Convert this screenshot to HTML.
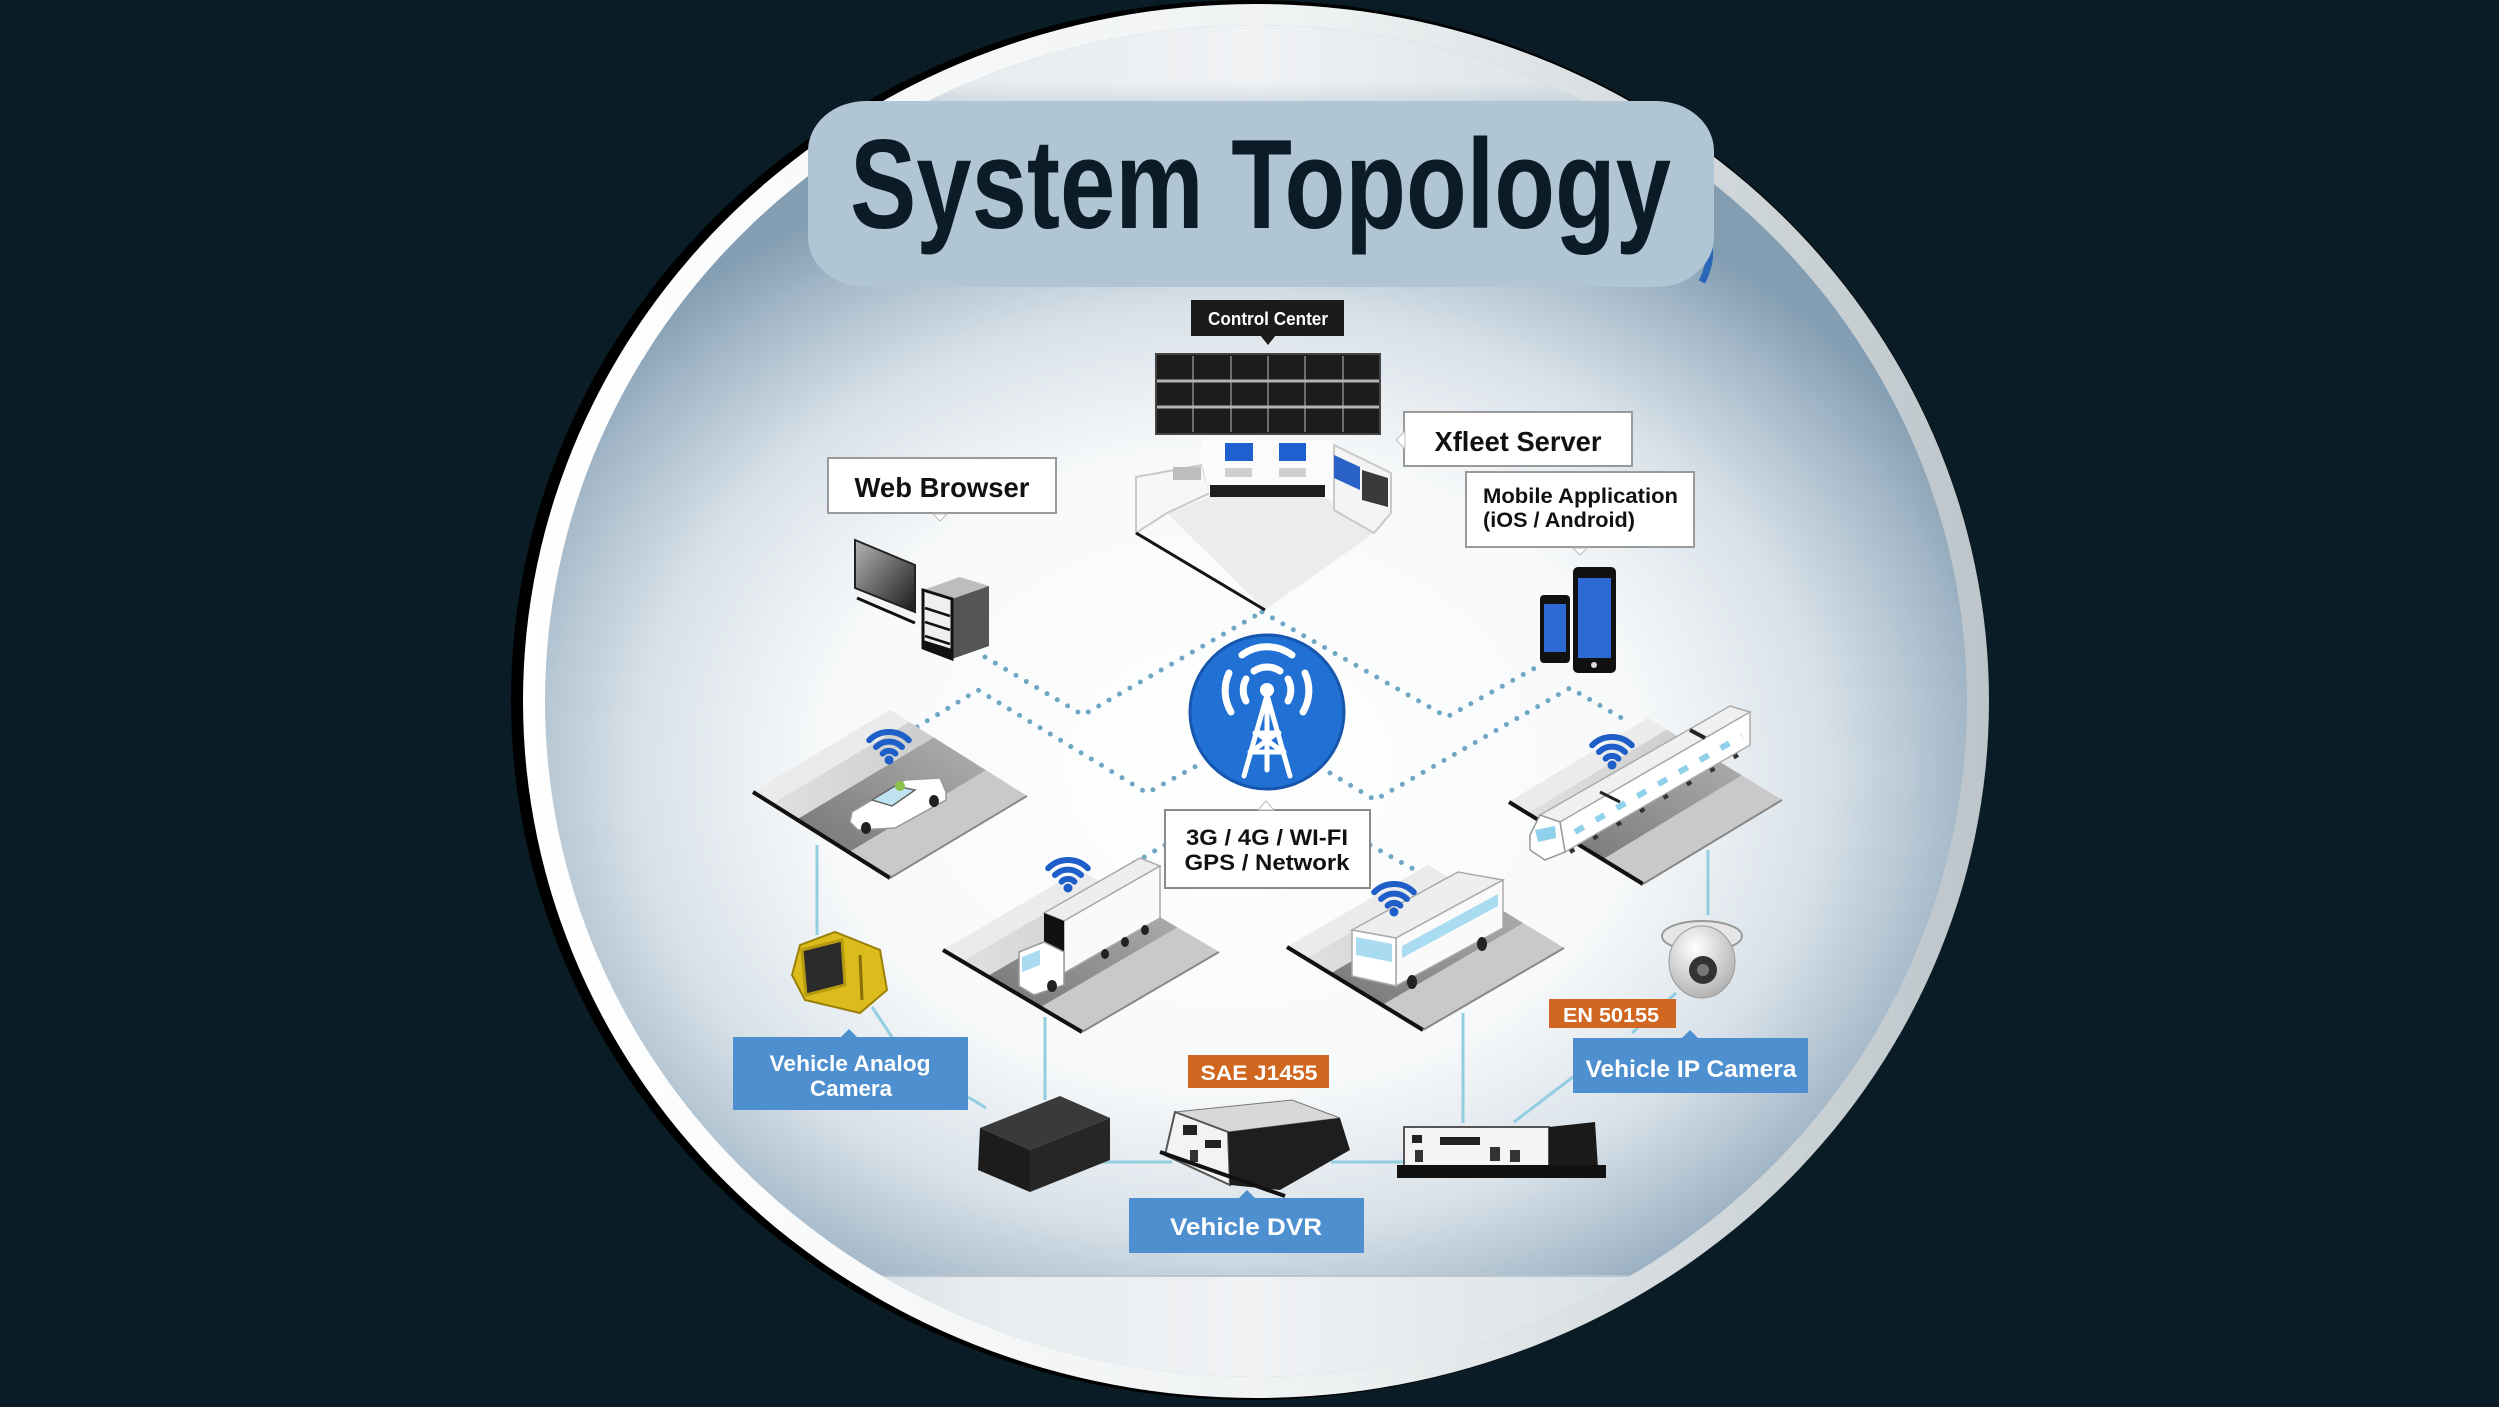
<!DOCTYPE html>
<html>
<head>
<meta charset="utf-8">
<style>
  html,body{margin:0;padding:0;background:#0a1c26;}
  body{width:2499px;height:1407px;overflow:hidden;}
  svg{display:block;}
  text{font-family:"Liberation Sans", Arial, sans-serif;font-weight:bold;}
</style>
</head>
<body>
<svg width="2499" height="1407" viewBox="0 0 2499 1407" xmlns="http://www.w3.org/2000/svg">
  <defs>
    <linearGradient id="ring" x1="0" y1="0" x2="1" y2="0">
      <stop offset="0" stop-color="#ffffff"/>
      <stop offset="0.55" stop-color="#eef1f2"/>
      <stop offset="1" stop-color="#bcc5ca"/>
    </linearGradient>
    <radialGradient id="inner" gradientUnits="userSpaceOnUse" cx="0" cy="0" r="1" gradientTransform="translate(1230 770) scale(820 640)">
      <stop offset="0" stop-color="#ffffff"/>
      <stop offset="0.5" stop-color="#f7f9fa"/>
      <stop offset="0.72" stop-color="#d9e2e9"/>
      <stop offset="0.88" stop-color="#aabdcc"/>
      <stop offset="1" stop-color="#839db2"/>
    </radialGradient>
    <linearGradient id="capband" gradientUnits="userSpaceOnUse" x1="545" y1="0" x2="1967" y2="0">
      <stop offset="0" stop-color="#a9b8c4"/>
      <stop offset="0.3" stop-color="#e8ecef"/>
      <stop offset="0.5" stop-color="#f0f2f4"/>
      <stop offset="0.75" stop-color="#dbe2e6"/>
      <stop offset="1" stop-color="#9fb1bf"/>
    </linearGradient>
    <linearGradient id="vfade" gradientUnits="userSpaceOnUse" x1="0" y1="0" x2="0" y2="180">
      <stop offset="0" stop-color="#ffffff"/>
      <stop offset="0.45" stop-color="#ffffff"/>
      <stop offset="1" stop-color="#000000"/>
    </linearGradient>
    <mask id="fadeTop">
      <rect x="0" y="0" width="2499" height="200" fill="url(#vfade)"/>
    </mask>
    <clipPath id="innerClip">
      <ellipse cx="1256" cy="701" rx="711" ry="676"/>
    </clipPath>
    <linearGradient id="plat" x1="0" y1="0" x2="1" y2="1">
      <stop offset="0" stop-color="#e2e2e2"/>
      <stop offset="1" stop-color="#c2c2c2"/>
    </linearGradient>
    <linearGradient id="road" x1="0" y1="0" x2="1" y2="0">
      <stop offset="0" stop-color="#7e7e7e"/>
      <stop offset="1" stop-color="#a8a8a8"/>
    </linearGradient>
    <radialGradient id="dome" cx="0.4" cy="0.3" r="0.8">
      <stop offset="0" stop-color="#ffffff"/>
      <stop offset="1" stop-color="#a9a9a9"/>
    </radialGradient>
    <linearGradient id="scr" x1="0" y1="0" x2="1" y2="1">
      <stop offset="0" stop-color="#b5b5b5"/>
      <stop offset="1" stop-color="#1a1a1a"/>
    </linearGradient>
    <g id="wifi">
      <path d="M-6.4,-6.4 A9,9 0 0 1 6.4,-6.4" fill="none" stroke="#1d5ec9" stroke-width="6" stroke-linecap="round"/>
      <path d="M-13,-13 A18.4,18.4 0 0 1 13,-13" fill="none" stroke="#1d5ec9" stroke-width="6" stroke-linecap="round"/>
      <path d="M-19.8,-19.8 A28,28 0 0 1 19.8,-19.8" fill="none" stroke="#1d5ec9" stroke-width="6" stroke-linecap="round"/>
      <circle cx="0" cy="0" r="4.5" fill="#1d5ec9"/>
    </g>
  </defs>

  <!-- background -->
  <rect x="0" y="0" width="2499" height="1407" fill="#0a1c26"/>

  <!-- big disc -->
  <ellipse cx="1250" cy="700" rx="739" ry="700" fill="#000000"/>
  <ellipse cx="1256" cy="701" rx="733" ry="697" fill="url(#ring)"/>
  <ellipse cx="1256" cy="701" rx="711" ry="676" fill="url(#inner)"/>
  <g clip-path="url(#innerClip)">
    <rect x="500" y="0" width="1500" height="200" fill="url(#capband)" mask="url(#fadeTop)"/>
    <rect x="500" y="1276" width="1500" height="140" fill="url(#capband)"/>
    <line x1="820" y1="1276" x2="1690" y2="1276" stroke="#b9c5cf" stroke-width="2"/>
  </g>

  <!-- title -->
  <path d="M1700,225 Q1718,250 1702,282" fill="none" stroke="#2a67b8" stroke-width="7"/>
  <rect x="808" y="101" width="906" height="186" rx="58" ry="50" fill="#b1c6d5"/>
  <text x="850" y="228" font-size="127" fill="#0c1c27" textLength="821" lengthAdjust="spacingAndGlyphs">System Topology</text>

  <!-- dotted network lines -->
  <g fill="none" stroke="#6fa6c4" stroke-width="5" stroke-dasharray="0 12" stroke-linecap="round">
    <polyline points="985,657 1083,715 1262,612"/>
    <polyline points="917,727 978,690 1147,793 1200,764"/>
    <polyline points="1262,612 1447,717 1535,668"/>
    <polyline points="1330,773 1375,800 1570,688 1625,720"/>
    <polyline points="1165,845 1122,870"/>
    <polyline points="1370,845 1415,870"/>
  </g>

  <!-- control center label -->
  <rect x="1191" y="300" width="153" height="36" fill="#1b1b1b"/>
  <polygon points="1260,335 1276,335 1268,345" fill="#1b1b1b"/>
  <text x="1268" y="325" font-size="18" fill="#ffffff" text-anchor="middle" textLength="120" lengthAdjust="spacingAndGlyphs">Control Center</text>

  <!-- video wall -->
  <rect x="1156" y="354" width="224" height="80" fill="#1c1c1c" stroke="#444" stroke-width="2"/>
  <g stroke="#6d6d6d" stroke-width="2">
    <line x1="1193" y1="356" x2="1193" y2="432"/>
    <line x1="1231" y1="356" x2="1231" y2="432"/>
    <line x1="1268" y1="356" x2="1268" y2="432"/>
    <line x1="1305" y1="356" x2="1305" y2="432"/>
    <line x1="1343" y1="356" x2="1343" y2="432"/>
  </g>
  <g stroke="#b5b5b5" stroke-width="3">
    <line x1="1157" y1="381" x2="1379" y2="381"/>
    <line x1="1157" y1="407" x2="1379" y2="407"/>
  </g>

  <!-- control desk -->
  <polygon points="1167,513 1265,610 1374,533 1325,497 1210,497" fill="#ececec"/>
  <polygon points="1136,477 1202,465 1210,493 1167,513 1136,533" fill="#f7f7f7" stroke="#c9c9c9" stroke-width="2"/>
  <polygon points="1202,440 1334,440 1334,497 1210,497 1202,465" fill="#fbfbfb"/>
  <polygon points="1334,445 1391,473 1391,513 1374,533 1334,510" fill="#f4f4f4" stroke="#c9c9c9" stroke-width="2"/>
  <rect x="1225" y="443" width="28" height="18" fill="#1f5fcf"/>
  <rect x="1279" y="443" width="27" height="18" fill="#1f5fcf"/>
  <rect x="1225" y="468" width="27" height="9" fill="#cfcfcf"/>
  <rect x="1279" y="468" width="27" height="9" fill="#cfcfcf"/>
  <rect x="1210" y="485" width="115" height="12" fill="#1e1e1e"/>
  <polygon points="1334,455 1360,467 1360,490 1334,478" fill="#2a62c8"/>
  <polygon points="1362,470 1388,478 1388,507 1362,500" fill="#3a3a3a"/>
  <rect x="1173" y="467" width="28" height="13" fill="#bdbdbd"/>
  <line x1="1136" y1="533" x2="1265" y2="610" stroke="#151515" stroke-width="3"/>

  <!-- Xfleet Server -->
  <rect x="1404" y="412" width="228" height="54" fill="#ffffff" stroke="#9a9a9a" stroke-width="2"/>
  <polygon points="1405,431 1396,440 1405,449" fill="#ffffff" stroke="#bbbbbb" stroke-width="1"/>
  <text x="1518" y="451" font-size="28" fill="#111" text-anchor="middle" textLength="167" lengthAdjust="spacingAndGlyphs">Xfleet Server</text>

  <!-- Web Browser -->
  <rect x="828" y="458" width="228" height="55" fill="#ffffff" stroke="#9a9a9a" stroke-width="2"/>
  <polygon points="933,514 947,514 940,521" fill="#ffffff" stroke="#bbbbbb" stroke-width="1"/>
  <text x="942" y="497" font-size="28" fill="#111" text-anchor="middle" textLength="175" lengthAdjust="spacingAndGlyphs">Web Browser</text>

  <!-- Mobile Application -->
  <rect x="1466" y="472" width="228" height="75" fill="#ffffff" stroke="#9a9a9a" stroke-width="2"/>
  <polygon points="1573,548 1587,548 1580,555" fill="#ffffff" stroke="#bbbbbb" stroke-width="1"/>
  <text x="1483" y="503" font-size="21" fill="#111" textLength="195" lengthAdjust="spacingAndGlyphs">Mobile Application</text>
  <text x="1483" y="527" font-size="21" fill="#111" textLength="152" lengthAdjust="spacingAndGlyphs">(iOS / Android)</text>

  <!-- web browser devices -->
  <polygon points="855,540 915,565 915,612 855,588" fill="url(#scr)" stroke="#222" stroke-width="2"/>
  <polygon points="855,590 915,614 915,619 855,595" fill="#f3f3f3"/>
  <line x1="857" y1="598" x2="915" y2="623" stroke="#111" stroke-width="3"/>
  <polygon points="923,590 960,577 989,586 952,599" fill="#bdbdbd"/>
  <polygon points="952,599 989,586 989,646 952,659" fill="#555"/>
  <polygon points="923,590 952,599 952,659 923,648" fill="#efefef" stroke="#111" stroke-width="3"/>
  <g stroke="#111" stroke-width="2.5">
    <line x1="925" y1="608" x2="950" y2="616"/>
    <line x1="925" y1="622" x2="950" y2="630"/>
    <line x1="925" y1="636" x2="950" y2="644"/>
  </g>
  <polygon points="923,640 952,649 952,659 923,648" fill="#111"/>

  <!-- mobile devices -->
  <rect x="1540" y="595" width="30" height="68" rx="4" fill="#111"/>
  <rect x="1544" y="604" width="22" height="48" fill="#2d6ad6"/>
  <rect x="1573" y="567" width="43" height="106" rx="5" fill="#111"/>
  <rect x="1578" y="578" width="33" height="80" fill="#2d6ad6"/>
  <circle cx="1594" cy="665" r="3" fill="#ddd"/>

  <!-- network circle -->
  <circle cx="1267" cy="712" r="77" fill="#2170d4" stroke="#1656ad" stroke-width="3"/>
  <g fill="none" stroke="#ffffff" stroke-width="7" stroke-linecap="round">
    <path d="M1254,671 A23,23 0 0 1 1280,671"/>
    <path d="M1246,701 A23,23 0 0 1 1246,679"/>
    <path d="M1288,679 A23,23 0 0 1 1288,701"/>
    <path d="M1242,655 A42,42 0 0 1 1292,655"/>
    <path d="M1231,712 A42,42 0 0 1 1229,673"/>
    <path d="M1305,673 A42,42 0 0 1 1303,712"/>
  </g>
  <circle cx="1267" cy="690" r="7" fill="#ffffff"/>
  <g stroke="#ffffff" stroke-width="5" stroke-linecap="round" fill="none">
    <line x1="1267" y1="695" x2="1244" y2="776"/>
    <line x1="1267" y1="695" x2="1290" y2="776"/>
    <line x1="1267" y1="695" x2="1267" y2="770"/>
    <line x1="1255" y1="733" x2="1279" y2="733"/>
    <line x1="1250" y1="752" x2="1284" y2="752"/>
    <line x1="1257" y1="733" x2="1283" y2="752"/>
    <line x1="1277" y1="733" x2="1251" y2="752"/>
  </g>

  <!-- network label -->
  <rect x="1165" y="810" width="205" height="78" fill="#ffffff" stroke="#8a8a8a" stroke-width="2"/>
  <polygon points="1258,810 1266,801 1274,810" fill="#ffffff" stroke="#bbbbbb" stroke-width="1"/>
  <text x="1267" y="845" font-size="22" fill="#111" text-anchor="middle" textLength="162" lengthAdjust="spacingAndGlyphs">3G / 4G / WI-FI</text>
  <text x="1267" y="870" font-size="22" fill="#111" text-anchor="middle" textLength="165" lengthAdjust="spacingAndGlyphs">GPS / Network</text>

  <!-- platforms -->
  <g transform="matrix(137,-82,137,86,753,792)">
    <polygon points="0,0 1,0 1,1 0,1" fill="url(#plat)"/>
    <polygon points="0,0 1,0 1,0.14 0,0.14" fill="#ebebeb"/>
    <polygon points="0,0.32 1,0.32 1,0.7 0,0.7" fill="url(#road)"/>
    <polygon points="0,0.7 1,0.7 1,1 0,1" fill="#c9c9c9"/>
    <line x1="0" y1="0" x2="0" y2="1" stroke="#111" stroke-width="4" vector-effect="non-scaling-stroke"/>
    <line x1="0" y1="1" x2="1" y2="1" stroke="#888" stroke-width="2" vector-effect="non-scaling-stroke"/>
  </g>
  <g transform="matrix(137,-80,139,82,943,950)">
    <polygon points="0,0 1,0 1,1 0,1" fill="url(#plat)"/>
    <polygon points="0,0 1,0 1,0.14 0,0.14" fill="#ebebeb"/>
    <polygon points="0,0.32 1,0.32 1,0.7 0,0.7" fill="url(#road)"/>
    <polygon points="0,0.7 1,0.7 1,1 0,1" fill="#c9c9c9"/>
    <line x1="0" y1="0" x2="0" y2="1" stroke="#111" stroke-width="4" vector-effect="non-scaling-stroke"/>
    <line x1="0" y1="1" x2="1" y2="1" stroke="#888" stroke-width="2" vector-effect="non-scaling-stroke"/>
  </g>
  <g transform="matrix(141,-82,136,83,1287,947)">
    <polygon points="0,0 1,0 1,1 0,1" fill="url(#plat)"/>
    <polygon points="0,0 1,0 1,0.14 0,0.14" fill="#ebebeb"/>
    <polygon points="0,0.32 1,0.32 1,0.7 0,0.7" fill="url(#road)"/>
    <polygon points="0,0.7 1,0.7 1,1 0,1" fill="#c9c9c9"/>
    <line x1="0" y1="0" x2="0" y2="1" stroke="#111" stroke-width="4" vector-effect="non-scaling-stroke"/>
    <line x1="0" y1="1" x2="1" y2="1" stroke="#888" stroke-width="2" vector-effect="non-scaling-stroke"/>
  </g>
  <g transform="matrix(139,-84,134,82,1509,802)">
    <polygon points="0,0 1,0 1,1 0,1" fill="url(#plat)"/>
    <polygon points="0,0 1,0 1,0.14 0,0.14" fill="#ebebeb"/>
    <polygon points="0,0.32 1,0.32 1,0.7 0,0.7" fill="url(#road)"/>
    <polygon points="0,0.7 1,0.7 1,1 0,1" fill="#c9c9c9"/>
    <line x1="0" y1="0" x2="0" y2="1" stroke="#111" stroke-width="4" vector-effect="non-scaling-stroke"/>
    <line x1="0" y1="1" x2="1" y2="1" stroke="#888" stroke-width="2" vector-effect="non-scaling-stroke"/>
  </g>

  <!-- car -->
  <polygon points="852,812 905,780 940,778 946,792 946,800 895,828 858,830 850,822" fill="#ffffff" stroke="#999" stroke-width="1.5"/>
  <polygon points="872,800 895,786 915,790 892,806" fill="#bfe3f0" stroke="#666" stroke-width="1.5"/>
  <ellipse cx="866" cy="828" rx="5" ry="6" fill="#222"/>
  <ellipse cx="934" cy="801" rx="5" ry="6" fill="#222"/>
  <circle cx="900" cy="786" r="5" fill="#8bc34a"/>

  <!-- truck -->
  <polygon points="1044,913 1140,858 1160,866 1064,921" fill="#eeeeee" stroke="#aaa" stroke-width="1.5"/>
  <polygon points="1064,921 1160,866 1160,918 1064,973" fill="#fafafa" stroke="#aaa" stroke-width="1.5"/>
  <polygon points="1044,913 1064,921 1064,973 1044,965" fill="#111"/>
  <polygon points="1019,952 1044,942 1064,952 1064,985 1034,995 1019,986" fill="#ffffff" stroke="#999" stroke-width="1.5"/>
  <polygon points="1022,957 1040,950 1040,965 1022,972" fill="#a9dcf0"/>
  <g fill="#222">
    <ellipse cx="1052" cy="986" rx="5" ry="6"/>
    <ellipse cx="1105" cy="954" rx="4" ry="5"/>
    <ellipse cx="1125" cy="942" rx="4" ry="5"/>
    <ellipse cx="1145" cy="930" rx="4" ry="5"/>
  </g>

  <!-- bus -->
  <polygon points="1352,930 1458,872 1503,880 1396,938" fill="#eeeeee" stroke="#aaa" stroke-width="1.5"/>
  <polygon points="1396,938 1503,880 1503,928 1396,986" fill="#fafafa" stroke="#aaa" stroke-width="1.5"/>
  <polygon points="1352,930 1396,938 1396,986 1352,976" fill="#ffffff" stroke="#aaa" stroke-width="1.5"/>
  <polygon points="1356,937 1392,944 1392,962 1356,955" fill="#a9dcf0"/>
  <polygon points="1402,946 1498,894 1498,906 1402,958" fill="#a9dcf0"/>
  <ellipse cx="1412" cy="982" rx="5" ry="7" fill="#222"/>
  <ellipse cx="1482" cy="944" rx="5" ry="7" fill="#222"/>

  <!-- train -->
  <polygon points="1540,815 1730,706 1750,712 1560,822" fill="#f0f0f0" stroke="#aaa" stroke-width="1.5"/>
  <polygon points="1560,822 1750,712 1750,745 1565,852" fill="#ffffff" stroke="#aaa" stroke-width="1.5"/>
  <polygon points="1530,835 1540,815 1560,822 1565,852 1545,860 1530,850" fill="#ffffff" stroke="#999" stroke-width="1.5"/>
  <polygon points="1535,830 1555,826 1556,838 1538,842" fill="#8fd0ea"/>
  <line x1="1575" y1="832" x2="1742" y2="736" stroke="#8fd0ea" stroke-width="6" stroke-dasharray="10 14"/>
  <line x1="1570" y1="852" x2="1745" y2="751" stroke="#333" stroke-width="4" stroke-dasharray="5 22"/>
  <line x1="1690" y1="730" x2="1705" y2="738" stroke="#222" stroke-width="4"/>
  <line x1="1600" y1="792" x2="1620" y2="802" stroke="#222" stroke-width="3"/>

  <!-- wifi icons -->
  <use href="#wifi" x="889" y="760"/>
  <use href="#wifi" x="1068" y="888"/>
  <use href="#wifi" x="1394" y="912"/>
  <use href="#wifi" x="1612" y="765"/>

  <!-- connector lines -->
  <g stroke="#92cde0" stroke-width="3" fill="none">
    <line x1="817" y1="845" x2="817" y2="935"/>
    <line x1="872" y1="1007" x2="892" y2="1037"/>
    <line x1="968" y1="1097" x2="986" y2="1108"/>
    <line x1="1045" y1="1017" x2="1045" y2="1100"/>
    <line x1="1100" y1="1162" x2="1172" y2="1162"/>
    <line x1="1331" y1="1162" x2="1404" y2="1162"/>
    <line x1="1463" y1="1013" x2="1463" y2="1123"/>
    <line x1="1573" y1="1077" x2="1514" y2="1122"/>
    <line x1="1676" y1="993" x2="1632" y2="1033"/>
    <line x1="1708" y1="850" x2="1708" y2="915"/>
  </g>

  <!-- yellow analog camera -->
  <polygon points="800,945 835,932 880,950 887,990 860,1013 805,1000 792,975" fill="#dcbc1c" stroke="#9a7f08" stroke-width="2"/>
  <polygon points="802,950 842,940 845,985 806,995" fill="#2a2a2a" stroke="#b89a10" stroke-width="3"/>
  <line x1="860" y1="955" x2="862" y2="1000" stroke="#8a7006" stroke-width="3"/>

  <!-- black small dvr -->
  <polygon points="980,1128 1060,1096 1110,1118 1030,1150" fill="#3a3a3a"/>
  <polygon points="980,1128 1030,1150 1030,1192 978,1170" fill="#1c1c1c"/>
  <polygon points="1030,1150 1110,1118 1110,1160 1030,1192" fill="#262626"/>

  <!-- main DVR -->
  <polygon points="1175,1112 1292,1100 1340,1118 1228,1132" fill="#d8d8d8" stroke="#777" stroke-width="1"/>
  <polygon points="1175,1112 1228,1132 1230,1185 1165,1155" fill="#f3f3f3" stroke="#555" stroke-width="2"/>
  <polygon points="1228,1132 1340,1118 1350,1150 1280,1190 1230,1185" fill="#1e1e1e"/>
  <rect x="1183" y="1125" width="14" height="10" fill="#222"/>
  <rect x="1205" y="1140" width="16" height="8" fill="#222"/>
  <rect x="1190" y="1150" width="8" height="12" fill="#333"/>
  <line x1="1160" y1="1152" x2="1285" y2="1196" stroke="#111" stroke-width="4"/>

  <!-- NVR -->
  <rect x="1404" y="1127" width="145" height="40" fill="#f4f4f4" stroke="#555" stroke-width="2"/>
  <rect x="1412" y="1135" width="10" height="8" fill="#222"/>
  <rect x="1440" y="1137" width="40" height="8" fill="#222"/>
  <rect x="1490" y="1147" width="10" height="14" fill="#333"/>
  <rect x="1510" y="1150" width="10" height="12" fill="#333"/>
  <rect x="1415" y="1150" width="8" height="12" fill="#333"/>
  <polygon points="1549,1127 1595,1122 1598,1168 1549,1170" fill="#1a1a1a"/>
  <polygon points="1397,1165 1606,1165 1606,1178 1397,1178" fill="#111"/>

  <!-- dome camera -->
  <ellipse cx="1702" cy="936" rx="40" ry="15" fill="#e6e6e6" stroke="#999" stroke-width="2"/>
  <ellipse cx="1702" cy="962" rx="33" ry="36" fill="url(#dome)" stroke="#999" stroke-width="1"/>
  <circle cx="1703" cy="970" r="14" fill="#333"/>
  <circle cx="1703" cy="970" r="6" fill="#777"/>

  <!-- blue/orange labels -->
  <rect x="733" y="1037" width="235" height="73" fill="#4e8fd0"/>
  <polygon points="841,1037 849,1029 857,1037" fill="#4e8fd0"/>
  <text x="850" y="1071" font-size="22" fill="#ffffff" text-anchor="middle" textLength="161" lengthAdjust="spacingAndGlyphs">Vehicle Analog</text>
  <text x="851" y="1096" font-size="22" fill="#ffffff" text-anchor="middle" textLength="82" lengthAdjust="spacingAndGlyphs">Camera</text>

  <rect x="1188" y="1055" width="141" height="33" fill="#d0661f"/>
  <text x="1259" y="1080" font-size="21" fill="#ffffff" text-anchor="middle" textLength="117" lengthAdjust="spacingAndGlyphs">SAE J1455</text>

  <rect x="1549" y="999" width="127" height="29" fill="#d0661f"/>
  <text x="1611" y="1022" font-size="20" fill="#ffffff" text-anchor="middle" textLength="96" lengthAdjust="spacingAndGlyphs">EN 50155</text>

  <rect x="1573" y="1038" width="235" height="55" fill="#4e8fd0"/>
  <polygon points="1682,1038 1690,1030 1698,1038" fill="#4e8fd0"/>
  <text x="1691" y="1077" font-size="24" fill="#ffffff" text-anchor="middle" textLength="211" lengthAdjust="spacingAndGlyphs">Vehicle IP Camera</text>

  <rect x="1129" y="1198" width="235" height="55" fill="#4e8fd0"/>
  <polygon points="1239,1198 1247,1190 1255,1198" fill="#4e8fd0"/>
  <text x="1246" y="1235" font-size="24" fill="#ffffff" text-anchor="middle" textLength="152" lengthAdjust="spacingAndGlyphs">Vehicle DVR</text>
</svg>
</body>
</html>
